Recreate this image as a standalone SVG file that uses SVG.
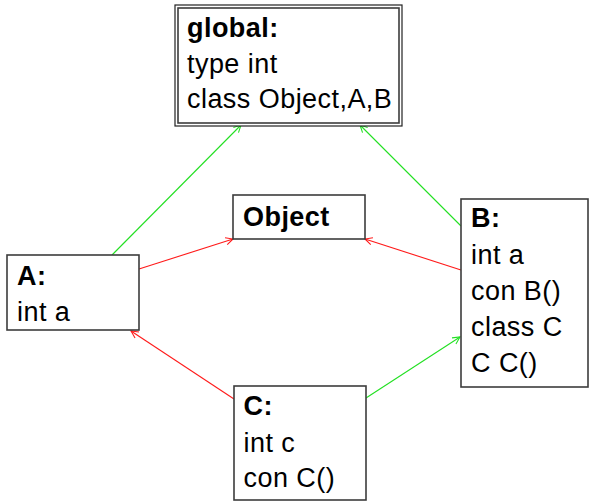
<svg xmlns="http://www.w3.org/2000/svg" width="590" height="501" viewBox="0 0 590 501">
  <style>
    .box { fill: #ffffff; stroke: #3c3c3c; stroke-width: 1.6; }
    .outer { fill: #ffffff; stroke: #222222; stroke-width: 1.2; }
    .inner { fill: none; stroke: #3c3c3c; stroke-width: 1.6; }
    text { font-family: "Liberation Sans", Arial, Helvetica, sans-serif; font-size: 27px; fill: #000000; letter-spacing: 0.45px; }
    .title { font-weight: bold; }
    .red { stroke: #ff1a1a; stroke-width: 1.1; fill: none; marker-end: url(#headRed); }
    .green { stroke: #22e022; stroke-width: 1.1; fill: none; marker-end: url(#headGreen); }
  </style>
  <defs>
    <marker id="headRed" viewBox="0 0 10 10" refX="9" refY="5" markerWidth="9" markerHeight="9" markerUnits="userSpaceOnUse" orient="auto">
      <path d="M1,1 L9,5 L1,9" fill="none" stroke="#ff1a1a" stroke-width="1.2"/>
    </marker>
    <marker id="headGreen" viewBox="0 0 10 10" refX="9" refY="5" markerWidth="9" markerHeight="9" markerUnits="userSpaceOnUse" orient="auto">
      <path d="M1,1 L9,5 L1,9" fill="none" stroke="#22e022" stroke-width="1.2"/>
    </marker>
  </defs>

  <g id="connectors">
    <line class="green" x1="112" y1="255" x2="241" y2="125"/>
    <line class="green" x1="461" y1="226" x2="360" y2="125"/>
    <line class="red" x1="139" y1="269" x2="233" y2="239"/>
    <line class="red" x1="461" y1="270" x2="365" y2="239"/>
    <line class="red" x1="234" y1="399" x2="131" y2="331"/>
    <line class="green" x1="366" y1="398" x2="460" y2="337"/>
  </g>

  <g id="global">
    <rect class="outer" x="175" y="5" width="227" height="121"/>
    <rect class="inner" x="178" y="8" width="221" height="115"/>
    <text class="title" x="187" y="37">global:</text>
    <text x="187" y="72.5">type int</text>
    <text x="187" y="108">class Object,A,B</text>
  </g>

  <g id="Object">
    <rect class="box" x="233" y="195" width="132" height="44"/>
    <text class="title" x="243" y="226">Object</text>
  </g>

  <g id="A">
    <rect class="box" x="7" y="255" width="132" height="75"/>
    <text class="title" x="17" y="285">A:</text>
    <text x="17" y="320.5">int a</text>
  </g>

  <g id="B">
    <rect class="box" x="461" y="199" width="127" height="188"/>
    <text class="title" x="471" y="227">B:</text>
    <text x="471" y="263.5">int a</text>
    <text x="471" y="299.5">con B()</text>
    <text x="471" y="335.5">class C</text>
    <text x="471" y="371.5">C C()</text>
  </g>

  <g id="C">
    <rect class="box" x="234" y="386" width="132" height="114"/>
    <text class="title" x="243.5" y="415">C:</text>
    <text x="243.5" y="451.5">int c</text>
    <text x="243.5" y="487">con C()</text>
  </g>
</svg>
